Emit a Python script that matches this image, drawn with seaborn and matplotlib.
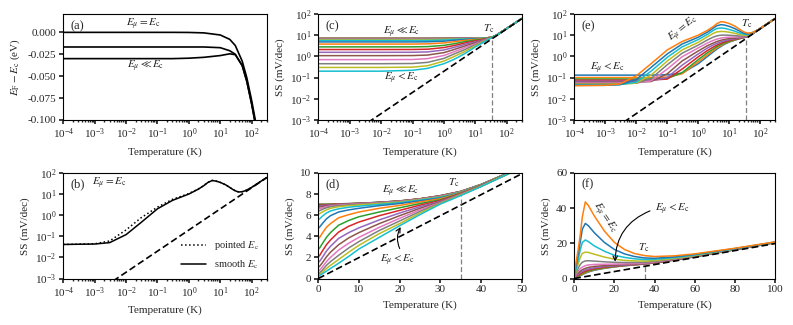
import matplotlib
matplotlib.use("Agg")
import pandas as pd
import matplotlib.pyplot as plt
import seaborn as sns

# ---- (a) Fermi level vs temperature ----
t_a = [1e-4, 1e-2, 0.3, 1, 3, 10, 20, 30, 50, 70, 100, 130, 160]
ef_equal = [0.0, 0.0, 0.0, -0.0001, -0.0006, -0.003, -0.008, -0.015, -0.033, -0.052, -0.078, -0.100, -0.122]
ef_mid = [-0.0167, -0.0167, -0.0167, -0.0167, -0.0167, -0.0175, -0.021, -0.025, -0.038, -0.056, -0.082, -0.104, -0.126]
ef_deep = [-0.030, -0.030, -0.030, -0.0295, -0.0285, -0.0265, -0.0245, -0.0255, -0.038, -0.056, -0.082, -0.104, -0.126]

# thermionic limit (dashed black line)
t_limit = [1e-4, 1, 50, 100, 300]
ss_limit = [1.984e-5, 0.1984, 9.92, 19.84, 59.52]
t_c = 35

# ---- (c)/(d) band tail, E_mu << E_c (top, row 0) ... E_mu < E_c (bottom, row 19) ----
t_cd = [1e-4, 1e-2, 0.1, 0.3, 1, 2, 3, 5, 7.5, 10, 15, 20, 25, 30, 35, 40, 50, 100, 300]
ss_cd = [
    [7.05, 7.05, 7.05, 7.05, 7.05, 7.05, 7.06, 7.07, 7.10, 7.13, 7.22, 7.35, 7.55, 7.85, 8.25, 8.90, 10.55, 20.7, 60.5],
    [7.02, 7.02, 7.02, 7.02, 7.02, 7.03, 7.04, 7.06, 7.09, 7.12, 7.21, 7.34, 7.55, 7.84, 8.24, 8.90, 10.55, 20.7, 60.5],
    [6.98, 6.98, 6.98, 6.98, 6.99, 7.01, 7.02, 7.05, 7.08, 7.12, 7.21, 7.34, 7.54, 7.83, 8.24, 8.90, 10.55, 20.7, 60.5],
    [6.93, 6.93, 6.93, 6.93, 6.95, 6.98, 7.00, 7.04, 7.07, 7.11, 7.20, 7.33, 7.54, 7.82, 8.23, 8.89, 10.55, 20.7, 60.5],
    [6.86, 6.86, 6.86, 6.87, 6.90, 6.95, 6.98, 7.02, 7.06, 7.10, 7.20, 7.32, 7.53, 7.81, 8.22, 8.89, 10.54, 20.7, 60.5],
    [6.76, 6.76, 6.76, 6.77, 6.82, 6.90, 6.94, 7.00, 7.05, 7.09, 7.19, 7.31, 7.52, 7.80, 8.21, 8.88, 10.54, 20.7, 60.5],
    [6.60, 6.60, 6.60, 6.61, 6.70, 6.80, 6.88, 6.96, 7.02, 7.07, 7.17, 7.30, 7.51, 7.78, 8.20, 8.88, 10.54, 20.7, 60.5],
    [6.40, 6.40, 6.40, 6.42, 6.55, 6.70, 6.80, 6.90, 6.98, 7.03, 7.14, 7.27, 7.49, 7.75, 8.19, 8.87, 10.54, 20.7, 60.5],
    [6.10, 6.10, 6.10, 6.13, 6.30, 6.50, 6.65, 6.80, 6.90, 6.97, 7.10, 7.24, 7.46, 7.72, 8.17, 8.86, 10.53, 20.7, 60.4],
    [5.60, 5.60, 5.60, 5.64, 5.90, 6.20, 6.40, 6.60, 6.75, 6.85, 7.02, 7.18, 7.42, 7.68, 8.15, 8.85, 10.53, 20.7, 60.4],
    [4.80, 4.80, 4.80, 4.86, 5.20, 5.65, 5.95, 6.30, 6.50, 6.65, 6.90, 7.10, 7.35, 7.62, 8.12, 8.84, 10.53, 20.7, 60.4],
    [3.80, 3.80, 3.80, 3.88, 4.30, 4.85, 5.20, 5.75, 6.05, 6.30, 6.65, 6.92, 7.25, 7.55, 8.10, 8.82, 10.52, 20.6, 60.4],
    [2.80, 2.80, 2.81, 2.88, 3.30, 3.90, 4.35, 5.05, 5.50, 5.85, 6.30, 6.70, 7.10, 7.45, 8.06, 8.80, 10.52, 20.6, 60.4],
    [2.10, 2.10, 2.11, 2.17, 2.60, 3.20, 3.65, 4.40, 4.95, 5.35, 5.95, 6.45, 6.95, 7.38, 8.03, 8.78, 10.51, 20.6, 60.4],
    [1.55, 1.55, 1.56, 1.62, 2.00, 2.60, 3.05, 3.80, 4.35, 4.80, 5.55, 6.20, 6.80, 7.30, 8.00, 8.76, 10.51, 20.6, 60.4],
    [1.08, 1.08, 1.09, 1.15, 1.50, 2.05, 2.50, 3.20, 3.85, 4.35, 5.20, 5.95, 6.65, 7.25, 7.98, 8.75, 10.51, 20.6, 60.3],
    [0.70, 0.70, 0.71, 0.78, 1.10, 1.60, 2.00, 2.70, 3.35, 3.90, 4.85, 5.70, 6.50, 7.20, 7.95, 8.74, 10.50, 20.6, 60.3],
    [0.45, 0.45, 0.46, 0.52, 0.80, 1.25, 1.60, 2.20, 2.90, 3.50, 4.55, 5.45, 6.35, 7.15, 7.92, 8.73, 10.50, 20.6, 60.3],
    [0.30, 0.30, 0.31, 0.36, 0.60, 0.95, 1.25, 1.80, 2.50, 3.15, 4.25, 5.20, 6.20, 7.10, 7.90, 8.72, 10.50, 20.6, 60.3],
    [0.20, 0.20, 0.22, 0.27, 0.45, 0.70, 0.95, 1.45, 2.10, 2.80, 3.90, 5.00, 6.05, 7.05, 7.85, 8.70, 10.50, 20.6, 60.3],
]

# ---- (e)/(f) E_mu < E_c (row 0) ... E_mu = E_c (row 11) ----
t_ef = [1e-4, 1e-3, 3e-3, 1e-2, 3e-2, 0.1, 0.3, 1, 2, 3, 4, 5.5, 7, 10, 15, 20, 25, 30, 35, 40, 50, 60, 80, 100, 300]
ss_ef = [
    [0.130, 0.130, 0.130, 0.130, 0.130, 0.135, 0.16, 0.45, 1.0, 1.6, 2.2, 3.0, 3.7, 4.7, 5.8, 6.6, 7.25, 7.75, 8.25, 8.85, 10.55, 12.35, 16.35, 20.4, 60.3],
    [0.100, 0.100, 0.100, 0.100, 0.100, 0.105, 0.15, 0.55, 1.2, 1.85, 2.5, 3.3, 4.0, 4.95, 5.95, 6.7, 7.3, 7.8, 8.3, 8.9, 10.6, 12.4, 16.4, 20.4, 60.3],
    [0.085, 0.085, 0.085, 0.085, 0.085, 0.090, 0.17, 0.70, 1.5, 2.2, 2.9, 3.7, 4.3, 5.2, 6.1, 6.8, 7.35, 7.85, 8.35, 8.95, 10.6, 12.4, 16.4, 20.4, 60.3],
    [0.075, 0.075, 0.075, 0.075, 0.076, 0.085, 0.25, 0.95, 1.9, 2.7, 3.4, 4.2, 4.8, 5.6, 6.4, 7.0, 7.5, 7.9, 8.4, 9.0, 10.7, 12.5, 16.5, 20.5, 60.4],
    [0.067, 0.067, 0.067, 0.067, 0.070, 0.10, 0.38, 1.3, 2.5, 3.4, 4.1, 4.9, 5.4, 6.1, 6.8, 7.2, 7.6, 8.0, 8.5, 9.1, 10.8, 12.6, 16.5, 20.5, 60.4],
    [0.060, 0.060, 0.060, 0.060, 0.065, 0.15, 0.60, 1.8, 3.2, 4.2, 5.0, 5.8, 6.3, 6.9, 7.3, 7.6, 7.9, 8.2, 8.6, 9.2, 10.9, 12.7, 16.6, 20.5, 60.4],
    [0.055, 0.055, 0.055, 0.056, 0.070, 0.25, 0.95, 2.5, 4.3, 5.6, 6.5, 7.3, 7.7, 8.0, 8.1, 8.2, 8.3, 8.5, 8.8, 9.4, 11.0, 12.8, 16.6, 20.5, 60.4],
    [0.051, 0.051, 0.051, 0.054, 0.090, 0.40, 1.4, 3.4, 6.0, 8.0, 9.3, 10.0, 10.1, 9.9, 9.5, 9.2, 9.1, 9.1, 9.2, 9.7, 11.2, 12.9, 16.7, 20.5, 60.4],
    [0.048, 0.048, 0.049, 0.055, 0.13, 0.60, 2.0, 4.6, 8.5, 12.0, 14.3, 15.0, 14.8, 13.8, 12.2, 11.0, 10.3, 10.0, 9.9, 10.2, 11.5, 13.1, 16.8, 20.6, 60.4],
    [0.045, 0.045, 0.047, 0.060, 0.20, 0.90, 2.8, 6.2, 11.0, 16.5, 20.5, 21.9, 21.0, 18.5, 15.5, 13.2, 12.0, 11.2, 10.8, 10.9, 11.9, 13.4, 16.9, 20.6, 60.4],
    [0.043, 0.043, 0.046, 0.080, 0.30, 1.3, 3.8, 8.0, 14.0, 21.0, 28.0, 31.3, 30.0, 26.0, 20.5, 16.5, 14.0, 12.5, 11.7, 11.5, 12.3, 13.7, 17.0, 20.7, 60.5],
    [0.041, 0.043, 0.050, 0.12, 0.45, 2.0, 5.0, 10.0, 17.0, 25.0, 35.0, 43.5, 41.5, 35.5, 27.0, 20.5, 16.5, 14.2, 13.0, 12.5, 12.9, 14.0, 17.2, 20.8, 60.5],
]
# (b) pointed band edge, same grid as t_ef
ss_pointed = [0.041, 0.044, 0.060, 0.20, 0.75, 2.4, 5.6, 10.5, 17.5, 25.5, 35.5, 44.0, 42.0, 35.5, 27.0, 20.5, 16.5, 14.2, 13.0, 12.5, 12.9, 14.0, 17.2, 20.8, 60.5]


def long_frame(t, rows):
    recs = []
    for i, row in enumerate(rows):
        for tt, v in zip(t, row):
            recs.append(("c%02d" % i, tt, v))
    return pd.DataFrame(recs, columns=["curve", "T", "SS"])


sns.set_theme(style="ticks")
plt.rcParams["font.family"] = ["Liberation Serif", "DejaVu Serif"]
plt.rcParams["mathtext.fontset"] = "stix"
plt.rcParams["font.size"] = 8
plt.rcParams["axes.labelsize"] = 8
plt.rcParams["xtick.labelsize"] = 8
plt.rcParams["ytick.labelsize"] = 8
plt.rcParams["axes.linewidth"] = 0.8
plt.rcParams["xtick.major.size"] = 3
plt.rcParams["ytick.major.size"] = 3
plt.rcParams["xtick.minor.size"] = 1.5
plt.rcParams["xtick.major.pad"] = 2
plt.rcParams["ytick.major.pad"] = 2

tab10 = sns.color_palette("tab10")
df_cd = long_frame(t_cd, ss_cd)
df_ef = long_frame(t_ef, ss_ef)
pal_cd = {"c%02d" % i: tab10[i % 10] for i in range(len(ss_cd))}
pal_ef = {"c%02d" % i: tab10[i % 10] for i in range(len(ss_ef))}

fig = plt.figure(figsize=(7.93, 3.25), dpi=100)
ax_a = fig.add_axes([0.0798, 0.631, 0.2565, 0.326])
ax_b = fig.add_axes([0.0798, 0.143, 0.2565, 0.325])
ax_c = fig.add_axes([0.4014, 0.631, 0.2565, 0.326])
ax_d = fig.add_axes([0.4014, 0.143, 0.2565, 0.325])
ax_e = fig.add_axes([0.7242, 0.631, 0.2531, 0.326])
ax_f = fig.add_axes([0.7242, 0.143, 0.2531, 0.325])

dash_kw = dict(color="black", lw=1.2, ls=(0, (4, 2)))
tc_kw = dict(colors="gray", lw=0.9, linestyles=(0, (4, 2)))


def log_axes(ax):
    ax.set_xscale("log")
    ax.set_yscale("log")
    ax.set_xlim(1e-4, 300)
    ax.set_ylim(1e-3, 1e2)
    ax.set_xticks([1e-4, 1e-3, 1e-2, 1e-1, 1, 10, 100])
    ax.set_yticks([1e-3, 1e-2, 1e-1, 1, 10, 100])
    ax.yaxis.set_minor_locator(matplotlib.ticker.NullLocator())
    ax.set_xlabel("Temperature (K)")
    ax.set_ylabel("SS (mV/dec)")


def box(ax, label):
    for s in ax.spines.values():
        s.set_visible(True)
        s.set_color("black")
    ax.text(0.035, 0.86, label, transform=ax.transAxes, fontsize=9)


# (a)
sns.lineplot(x=t_a, y=ef_equal, color="black", lw=1.2, ax=ax_a)
sns.lineplot(x=t_a, y=ef_mid, color="black", lw=1.2, ax=ax_a)
sns.lineplot(x=t_a, y=ef_deep, color="black", lw=1.2, ax=ax_a)
ax_a.set_xscale("log")
ax_a.set_xlim(1e-4, 300)
ax_a.set_ylim(-0.1, 0.021)
ax_a.set_xticks([1e-4, 1e-3, 1e-2, 1e-1, 1, 10, 100])
ax_a.set_yticks([0.0, -0.025, -0.05, -0.075, -0.1])
ax_a.yaxis.set_major_formatter(matplotlib.ticker.FormatStrFormatter("%.3f"))
ax_a.set_xlabel("Temperature (K)")
ax_a.set_ylabel(r"$E_{\rm F}-E_{\rm c}$ (eV)")
ax_a.text(0.035, 0.0085, r"$E_\mu = E_{\rm c}$", ha="center", va="center")
ax_a.text(0.043, -0.039, r"$E_\mu \ll E_{\rm c}$", ha="center", va="center")
box(ax_a, "(a)")

# (b)
sns.lineplot(x=t_ef, y=ss_pointed, color="black", lw=1.1, ls=":", label=r"pointed $E_{\rm c}$", ax=ax_b)
sns.lineplot(x=t_ef, y=ss_ef[-1], color="black", lw=1.1, label=r"smooth $E_{\rm c}$", ax=ax_b)
ax_b.plot(t_limit, ss_limit, **dash_kw)
log_axes(ax_b)
ax_b.text(2.8e-3, 31, r"$E_\mu = E_{\rm c}$", ha="center", va="center")
ax_b.legend(loc="lower right", frameon=False, fontsize=7.5, handlelength=2.4,
            borderaxespad=0.3, labelspacing=0.6)
box(ax_b, "(b)")

# (c)
sns.lineplot(data=df_cd, x="T", y="SS", hue="curve", palette=pal_cd, hue_order=sorted(pal_cd),
             estimator=None, legend=False, lw=1.1, ax=ax_c)
ax_c.plot(t_limit, ss_limit, **dash_kw)
ax_c.vlines(t_c, 1e-3, 6.94, **tc_kw)
log_axes(ax_c)
ax_c.text(0.045, 14, r"$E_\mu \ll E_{\rm c}$", ha="center", va="center")
ax_c.text(0.045, 0.09, r"$E_\mu < E_{\rm c}$", ha="center", va="center")
ax_c.text(27, 20, r"$T_{\rm c}$", ha="center", va="center")
box(ax_c, "(c)")

# (d)
sns.lineplot(data=df_cd, x="T", y="SS", hue="curve", palette=pal_cd, hue_order=sorted(pal_cd),
             estimator=None, legend=False, lw=1.1, ax=ax_d)
ax_d.plot(t_limit, ss_limit, **dash_kw)
ax_d.vlines(t_c, 0, 7.85, **tc_kw)
ax_d.set_xlim(0, 50)
ax_d.set_ylim(0, 10)
ax_d.set_xticks([0, 10, 20, 30, 40, 50])
ax_d.set_yticks([0, 2, 4, 6, 8, 10])
ax_d.set_xlabel("Temperature (K)")
ax_d.set_ylabel("SS (mV/dec)")
ax_d.text(20.2, 8.25, r"$E_\mu \ll E_{\rm c}$", ha="center", va="center")
ax_d.text(19.5, 1.75, r"$E_\mu < E_{\rm c}$", ha="center", va="center")
ax_d.annotate("", xy=(20.6, 5.1), xytext=(20.3, 2.6),
              arrowprops=dict(arrowstyle="->", color="black", lw=0.8,
                              connectionstyle="arc3,rad=-0.3"))
ax_d.text(33.2, 9.1, r"$T_{\rm c}$", ha="center", va="center")
box(ax_d, "(d)")

# (e)
sns.lineplot(data=df_ef, x="T", y="SS", hue="curve", palette=pal_ef, hue_order=sorted(pal_ef),
             estimator=None, legend=False, lw=1.1, ax=ax_e)
ax_e.plot(t_limit, ss_limit, **dash_kw)
ax_e.vlines(t_c, 1e-3, 8.3, **tc_kw)
log_axes(ax_e)
ax_e.text(0.33, 18.5, r"$E_\mu = E_{\rm c}$", ha="center", va="center", rotation=39)
ax_e.text(3.2e-4, 0.26, r"$E_\mu < E_{\rm c}$", ha="left", va="center")
ax_e.text(36, 33, r"$T_{\rm c}$", ha="center", va="center")
box(ax_e, "(e)")

# (f)
sns.lineplot(data=df_ef, x="T", y="SS", hue="curve", palette=pal_ef, hue_order=sorted(pal_ef),
             estimator=None, legend=False, lw=1.1, ax=ax_f)
ax_f.plot(t_limit, ss_limit, **dash_kw)
ax_f.vlines(t_c, 0, 6.94, **tc_kw)
ax_f.set_xlim(0, 100)
ax_f.set_ylim(0, 60)
ax_f.set_xticks([0, 20, 40, 60, 80, 100])
ax_f.set_yticks([0, 20, 40, 60])
ax_f.set_xlabel("Temperature (K)")
ax_f.set_ylabel("SS (mV/dec)")
ax_f.text(14.8, 34.3, r"$E_\mu = E_{\rm c}$", ha="center", va="center", rotation=-56)
ax_f.text(40, 39, r"$E_\mu < E_{\rm c}$", ha="left", va="center")
ax_f.annotate("", xy=(20.3, 8.0), xytext=(39, 39),
              arrowprops=dict(arrowstyle="->", color="black", lw=0.8,
                              connectionstyle="arc3,rad=0.35"))
ax_f.text(34.4, 17.7, r"$T_{\rm c}$", ha="center", va="center")
box(ax_f, "(f)")

fig.savefig("out.png", dpi=100)
